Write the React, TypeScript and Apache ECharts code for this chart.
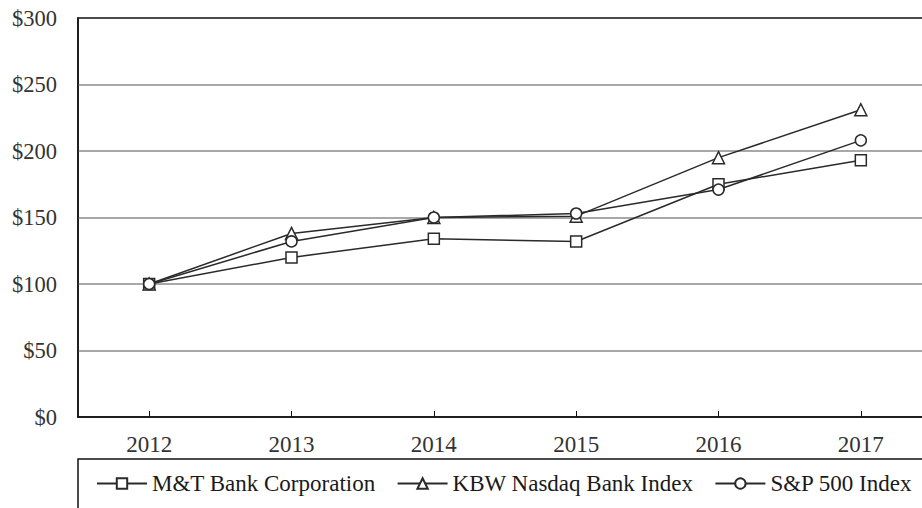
import React, { useEffect, useRef } from "react";
import * as echarts from "echarts";

const years = ["2012", "2013", "2014", "2015", "2016", "2017"];
const mtBank = [100, 120, 134, 132, 175, 193];
const kbwIndex = [100, 138, 150, 151, 195, 231];
const sp500 = [100, 132, 150, 153, 171, 208];
const seriesNames = ["M&T Bank Corporation", "KBW Nasdaq Bank Index", "S&P 500 Index"];

const FONT = "'Liberation Serif', 'Times New Roman', serif";

export default function App() {
  const ref = useRef<HTMLDivElement>(null);
  useEffect(() => {
    if (!ref.current) return;
    const chart = echarts.init(ref.current, undefined, { renderer: "svg" });
    const mk = (name: string, data: number[], symbol: string, size: number) => ({
      name,
      type: "line",
      data,
      symbol,
      symbolSize: size,
      showAllSymbol: true,
      lineStyle: { color: "#2a2a2a", width: 1.5 },
      itemStyle: { color: "#ffffff", borderColor: "#2a2a2a", borderWidth: 1.5 },
      emphasis: { disabled: true },
    });
    chart.setOption({
      animation: false,
      backgroundColor: "#ffffff",
      grid: {
        left: 78,
        top: 18,
        right: 0,
        height: 399,
        show: true,
        borderColor: "#111",
        borderWidth: 1.5,
        backgroundColor: "transparent",
      },
      xAxis: {
        type: "category",
        data: years,
        boundaryGap: true,
        axisLine: { show: true, lineStyle: { color: "#111", width: 1.5 } },
        axisTick: { show: true, inside: true, length: 6, alignWithLabel: true, lineStyle: { color: "#111", width: 1 } },
        axisLabel: { color: "#333", fontFamily: FONT, fontSize: 23, margin: 16 },
        splitLine: { show: false },
      },
      yAxis: {
        type: "value",
        min: 0,
        max: 300,
        interval: 50,
        axisLine: { show: true, lineStyle: { color: "#111", width: 1.5 } },
        axisTick: { show: false },
        axisLabel: {
          color: "#333",
          fontFamily: FONT,
          fontSize: 22.5,
          margin: 21,
          formatter: (v: number) => "$" + v,
        },
        splitLine: {
          show: true,
          showMinLine: false,
          showMaxLine: false,
          lineStyle: { color: "#a8a8a8", width: 2 },
        },
      },
      legend: {
        show: true,
        data: seriesNames,
        left: 96,
        top: 472,
        width: 880,
        padding: 0,
        itemWidth: 50,
        itemHeight: 13,
        itemGap: 21,
        textStyle: { color: "#1a1a1a", fontFamily: FONT, fontSize: 23 },
        selectedMode: false,
      },
      graphic: [
        {
          type: "rect",
          shape: { x: 78, y: 459, width: 900, height: 100 },
          style: { fill: "none", stroke: "#111", lineWidth: 1.5 },
          silent: true,
        },
      ],
      series: [
        mk(seriesNames[0], mtBank, "rect", 11),
        mk(seriesNames[1], kbwIndex, "triangle", 12),
        mk(seriesNames[2], sp500, "circle", 11),
      ],
    });
    return () => chart.dispose();
  }, []);
  return (
    <div
      style={{
        position: "fixed",
        left: 0,
        top: 0,
        width: 922,
        height: 508,
        overflow: "hidden",
        background: "#fff",
      }}
    >
      <div ref={ref} style={{ width: 932, height: 508 }} />
    </div>
  );
}
